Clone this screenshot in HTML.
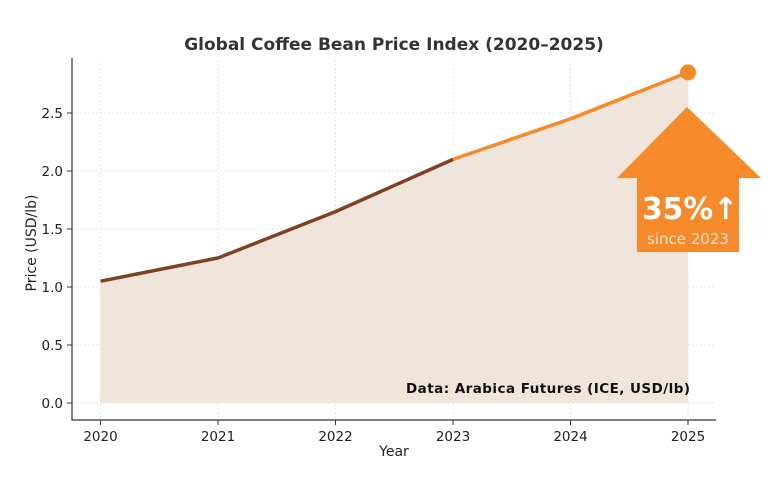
<!DOCTYPE html>
<html><head><meta charset="utf-8"><style>
body{margin:0;background:#fff;}
svg{display:block;font-family:"DejaVu Sans","Liberation Sans",sans-serif;}
</style></head><body>
<svg id="chart" width="768" height="483">
<text x="394" y="50" text-anchor="middle" font-size="17" font-weight="bold" fill="#333">Global Coffee Bean Price Index (2020–2025)</text>
<g id="grid"></g>
<g id="area"></g>
<g id="lines"></g>
<g id="axes"></g>
<text x="690" y="393" text-anchor="end" font-size="13.5" font-weight="bold" fill="#111" textLength="284">Data: Arabica Futures (ICE, USD/lb)</text>
<g>
<polygon points="687,107 761,178 739,178 739,252 637,252 637,178 617,178" fill="#f68a2a"/>
<text x="642" y="219" font-size="30" font-weight="bold" fill="#fff" textLength="96" lengthAdjust="spacingAndGlyphs">35%↑</text>
<text x="688" y="244" text-anchor="middle" font-size="15" fill="#fde3c8">since 2023</text>
</g>
<text x="394" y="456" text-anchor="middle" font-size="14" fill="#222">Year</text>
<text transform="translate(36,243) rotate(-90)" text-anchor="middle" font-size="14" fill="#222">Price (USD/lb)</text>
</svg>
<script>
const years=[2020,2021,2022,2023,2024,2025];
const prices=[1.05,1.25,1.65,2.1,2.45,2.85];
const yTicks=[0,0.5,1.0,1.5,2.0,2.5];
const yTickLabels=["0.0","0.5","1.0","1.5","2.0","2.5"];
const NS="http://www.w3.org/2000/svg";
const x=v=>100.5+(v-2020)*117.5;
const y=v=>403-v*116;
function mk(p,t,a){const e=document.createElementNS(NS,t);for(const k in a)e.setAttribute(k,a[k]);document.getElementById(p).appendChild(e);return e;}
years.forEach(v=>{const e=mk('grid','line',{x1:x(v),x2:x(v),y1:60,y2:420,stroke:'#e6e6e6','stroke-dasharray':'2,2'});

});
yTicks.forEach(v=>{const e=mk('grid','line',{x1:72,x2:716,y1:y(v),y2:y(v),stroke:'#e6e6e6','stroke-dasharray':'2,2'});

});
let d='M'+x(years[0])+','+y(0);
years.forEach((v,i)=>d+=' L'+x(v)+','+y(prices[i]));
d+=' L'+x(years[years.length-1])+','+y(0)+'Z';
const ar=mk('area','path',{d:d,fill:'#efe5da'});


const i23=years.indexOf(2023);
const p1=years.slice(0,i23+1).map((v,i)=>x(v)+','+y(prices[i])).join(' ');
const p2=years.slice(i23).map((v,i)=>x(v)+','+y(prices[i+i23])).join(' ');
const l1=mk('lines','polyline',{points:p1,fill:'none',stroke:'#7f4122','stroke-width':3.5});


const l2=mk('lines','polyline',{points:p2,fill:'none',stroke:'#f68a2a','stroke-width':3.5});


const last=years.length-1;
const dot=mk('lines','circle',{cx:x(years[last]),cy:y(prices[last]),r:8,fill:'#f68a2a'});


const ax=mk('axes','path',{d:'M72,58 V420 H716',fill:'none',stroke:'#333','stroke-width':1.2});


years.forEach(v=>{mk('axes','line',{x1:x(v),x2:x(v),y1:420,y2:425,stroke:'#333'});
const t=mk('axes','text',{x:x(v),y:441,'text-anchor':'middle','font-size':13.5,fill:'#222'});t.textContent=v;

});
yTicks.forEach((v,i)=>{mk('axes','line',{x1:67,x2:72,y1:y(v),y2:y(v),stroke:'#333'});
const t=mk('axes','text',{x:63,y:y(v)+5,'text-anchor':'end','font-size':13.5,fill:'#222'});t.textContent=yTickLabels[i];

});
</script>
</body></html>
